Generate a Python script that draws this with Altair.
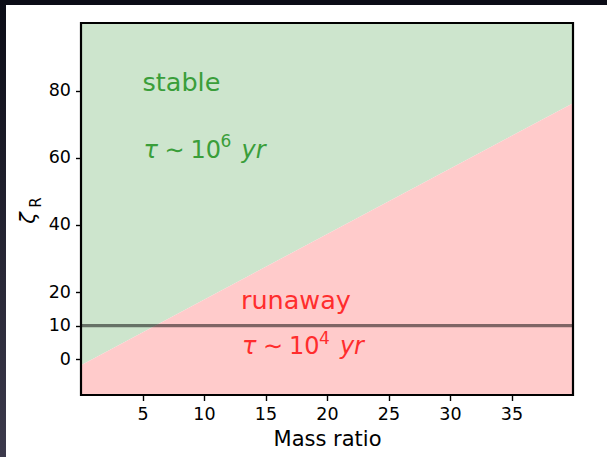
import altair as alt
import pandas as pd

# ---- data ----
mass_ratio = [0, 40]
zeta_boundary = [-1.8, 76.3]          # boundary between stable (above) and runaway (below)
threshold = [10]
x_ticks = [5, 10, 15, 20, 25, 30, 35]
y_ticks = [0, 10, 20, 40, 60, 80]
label_names = ["stable", "runaway"]
label_x = [5, 13]
label_y = [80, 15]
tau_y = [60, 1.5]
tau_exp = ["6", "4"]
label_colors = ["#3a9e3a", "#ff2d2d"]

W, H = 492, 372
FONT = "DejaVu Sans"
Y_MIN, Y_MAX = -10.7, 100.2

region = pd.DataFrame({"mass_ratio": mass_ratio, "boundary": zeta_boundary})
labels = pd.DataFrame({"name": label_names, "x": label_x, "y": label_y,
                       "ty": tau_y, "exp": tau_exp, "col": label_colors})
one = pd.DataFrame({"a": [0]})

x_scale = alt.Scale(domain=[0, 40], nice=False, zero=False)
y_scale = alt.Scale(domain=[Y_MIN, Y_MAX], nice=False, zero=False)
x_axis = alt.Axis(values=x_ticks, title="Mass ratio", labelFontSize=17.5, tickSize=5.5,
                  tickWidth=1.4, labelPadding=5, titleFontSize=21, titleFontWeight="normal",
                  titlePadding=5, labelFlush=False, grid=False, domain=False, zindex=1)
y_axis = alt.Axis(values=y_ticks, title=None, labelFontSize=17.5, tickSize=5.5,
                  tickWidth=1.4, labelPadding=5, grid=False, domain=False, labelFlush=False,
                  zindex=1)

bg = alt.Chart(one).mark_rect(color="white").encode(
    x=alt.value(-75), x2=alt.value(W + 34), y=alt.value(-18), y2=alt.value(H + 62))
strip = alt.Chart(one).mark_rect(color=alt.Gradient(
    gradient="linear",
    stops=[alt.GradientStop(color="#0b0c16", offset=0),
           alt.GradientStop(color="#3c3a4c", offset=1)],
    x1=0, x2=0, y1=0, y2=1)).encode(
    x=alt.value(-81), x2=alt.value(-75), y=alt.value(-23), y2=alt.value(H + 62))

X = alt.X("mass_ratio:Q", scale=x_scale, axis=x_axis)
green = alt.Chart(region).mark_area(color="#cde5cd", opacity=1).encode(
    x=X, y=alt.Y("boundary:Q", scale=y_scale, axis=y_axis), y2=alt.datum(Y_MAX))
red = alt.Chart(region).mark_area(color="#ffcbcb", opacity=1).encode(
    x=X, y=alt.Y("boundary:Q", scale=y_scale, axis=y_axis), y2=alt.datum(Y_MIN))

rule = alt.Chart(pd.DataFrame({"z": threshold})).mark_rule(
    color="black", opacity=0.5, strokeWidth=3.2).encode(
    y=alt.Y("z:Q", scale=y_scale, axis=y_axis))

LX = alt.X("x:Q", scale=x_scale, axis=x_axis)
COL = alt.Color("col:N", scale=None)
names = alt.Chart(labels).mark_text(font=FONT, fontSize=25.5, align="left",
                                    baseline="alphabetic").encode(
    x=LX, y=alt.Y("y:Q", scale=y_scale, axis=y_axis), text="name:N", color=COL)


def tau_piece(text, dx, italic=False, size=24, dy=0):
    enc = dict(x=LX, y=alt.Y("ty:Q", scale=y_scale, axis=y_axis), color=COL)
    if text is None:
        enc["text"] = alt.Text("exp:N")
        ch = alt.Chart(labels).mark_text(font=FONT, fontSize=size, align="left",
                                         baseline="alphabetic", dx=dx, dy=dy)
    else:
        kw = dict(font=FONT, fontSize=size, align="left", baseline="alphabetic",
                  dx=dx, dy=dy, text=text)
        if italic:
            kw["fontStyle"] = "italic"
        ch = alt.Chart(labels).mark_text(**kw)
    return ch.encode(**enc)


tau_layers = [
    tau_piece("τ", 1, italic=True),
    tau_piece("∼", 22),
    tau_piece("10", 48),
    tau_piece(None, 78, size=17, dy=-10.5),
    tau_piece("yr", 99, italic=True),
]

zeta = alt.Chart(one).mark_text(text="ζ", font=FONT, fontSize=21, fontStyle="italic",
                                angle=270, align="center", baseline="middle",
                                color="black").encode(
    x=alt.value(-52.5), y=alt.value(195))
zeta_sub = alt.Chart(one).mark_text(text="R", font=FONT, fontSize=15, angle=270,
                                    align="center", baseline="middle",
                                    color="black").encode(
    x=alt.value(-45), y=alt.value(179.5))

frame = alt.Chart(one).mark_rect(filled=False, stroke="black", strokeWidth=2.2).encode(
    x=alt.value(0), x2=alt.value(W), y=alt.value(0), y2=alt.value(H))

chart = alt.layer(bg, strip, green, red, rule, names, *tau_layers, zeta, zeta_sub, frame).properties(
    width=W, height=H,
    autosize=alt.AutoSizeParams(type="none"),
    padding={"left": 81, "top": 23, "right": 34, "bottom": 62},
    background="#0b0c16",
).configure_view(stroke=None).configure_axis(
    labelFont=FONT, titleFont=FONT, labelColor="black", titleColor="black",
    tickColor="black")

chart.save("out.html", embed_options={"renderer": "svg", "actions": False})
